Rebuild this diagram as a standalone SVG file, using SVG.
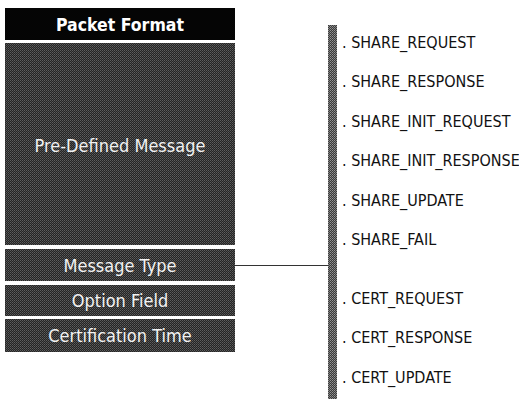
<svg xmlns="http://www.w3.org/2000/svg" width="519" height="399" viewBox="0 0 519 399">
<style>
.box{fill:url(#stip)}
.bt{font-family:"DejaVu Sans Condensed","DejaVu Sans","Liberation Sans",sans-serif;font-stretch:condensed;font-size:18px;fill:#f2f2f2;text-anchor:middle}
.hd{font-family:"DejaVu Sans Condensed","DejaVu Sans","Liberation Sans",sans-serif;font-stretch:condensed;font-size:17.5px;font-weight:bold;fill:#ffffff;text-anchor:middle}
.lb{font-family:"DejaVu Sans Condensed","DejaVu Sans","Liberation Sans",sans-serif;font-stretch:condensed;font-size:16px;fill:#111111}
</style>
<defs>
<pattern id="stip" width="2" height="2" patternUnits="userSpaceOnUse">
<rect width="2" height="2" fill="#242424"/>
<rect x="0" y="0" width="1" height="1" fill="#5e5e5e"/>
<rect x="1" y="1" width="1" height="1" fill="#4a4a4a"/>
</pattern>
<pattern id="bar" width="2" height="2" patternUnits="userSpaceOnUse">
<rect width="2" height="2" fill="#3a3a3a"/>
<rect x="0" y="0" width="1" height="1" fill="#949494"/>
<rect x="1" y="1" width="1" height="1" fill="#7a7a7a"/>
</pattern>
</defs>
<rect width="519" height="399" fill="#ffffff"/>
<g id="packet-format">
<rect x="5" y="8" width="230" height="32" fill="#050505"/>
<text class="hd" x="120" y="31">Packet Format</text>
</g>
<g id="pre-defined-message">
<rect class="box" x="5" y="43" width="230" height="202"/>
<text class="bt" x="120" y="152">Pre-Defined Message</text>
</g>
<g id="message-type">
<rect class="box" x="5" y="249" width="230" height="32"/>
<text class="bt" x="120" y="272">Message Type</text>
</g>
<g id="option-field">
<rect class="box" x="5" y="285" width="230" height="31"/>
<text class="bt" x="120" y="307">Option Field</text>
</g>
<g id="certification-time">
<rect class="box" x="5" y="319" width="230" height="33"/>
<text class="bt" x="120" y="342">Certification Time</text>
</g>
<g id="type-list">
<rect x="328" y="25" width="9" height="374" fill="url(#bar)"/>
<text class="lb" x="342" y="48">. SHARE_REQUEST</text>
<text class="lb" x="342" y="87">. SHARE_RESPONSE</text>
<text class="lb" x="342" y="127">. SHARE_INIT_REQUEST</text>
<text class="lb" x="342" y="166">. SHARE_INIT_RESPONSE</text>
<text class="lb" x="342" y="205.5">. SHARE_UPDATE</text>
<text class="lb" x="342" y="245">. SHARE_FAIL</text>
<text class="lb" x="342" y="304">. CERT_REQUEST</text>
<text class="lb" x="342" y="343">. CERT_RESPONSE</text>
<text class="lb" x="342" y="383">. CERT_UPDATE</text>
</g>
<g id="connectors">
<line x1="235" y1="265.5" x2="328" y2="265.5" stroke="#333333" stroke-width="1"/>
</g>
</svg>
